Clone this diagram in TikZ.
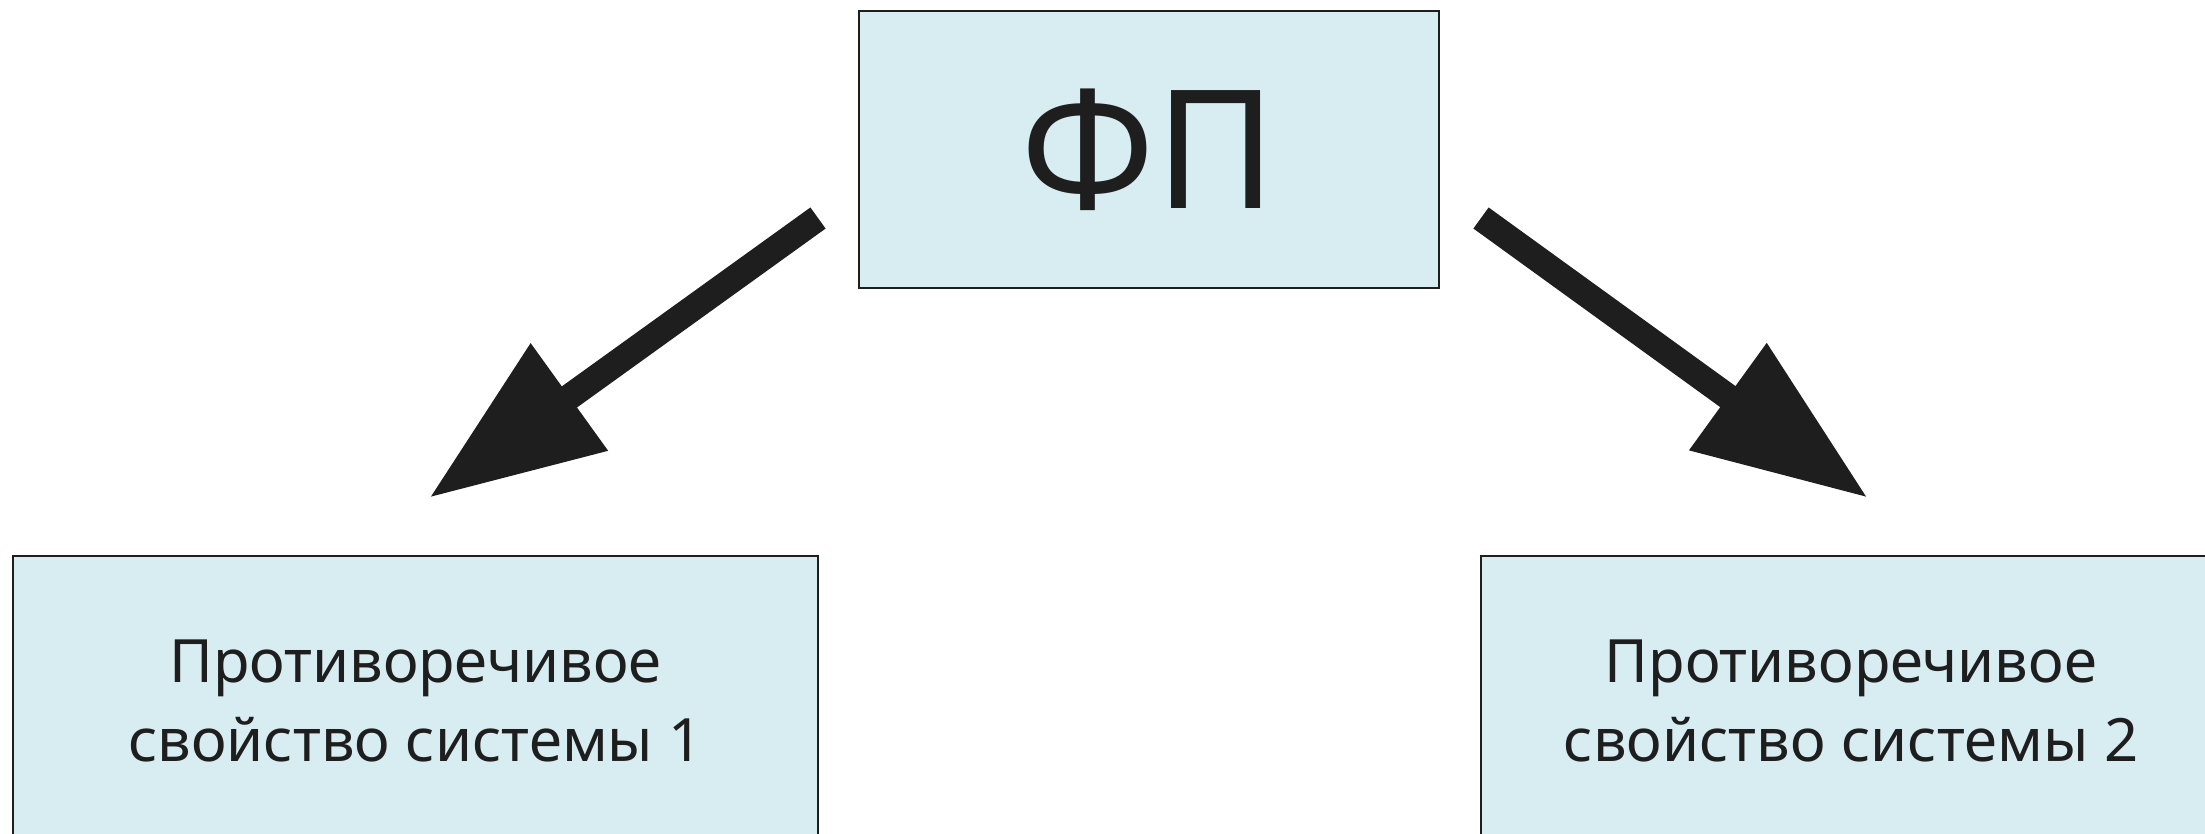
\documentclass[tikz,border=0pt]{standalone}
\usepackage{fontspec}
\setmainfont{Noto Sans}
\usetikzlibrary{arrows.meta}
\definecolor{boxfill}{RGB}{215,237,241}
\definecolor{ink}{RGB}{30,30,30}

\begin{document}
\begin{tikzpicture}[scale=1.0,>={Triangle[length=17.3mm,width=12.5mm]},
    prop/.style={draw=ink,line width=0.7pt,fill=boxfill,text=ink,align=center,inner sep=0pt},
    bigarrow/.style={->,draw=ink,fill=ink,line width=7.4pt}]

    \clip (0,0) rectangle (22.05,8.33);

    \node[prop,minimum width=5.8cm,minimum height=2.77cm,
          font=\fontsize{47}{56}\selectfont] (fp) at (11.49,6.835) {ФП};

    \node[prop,minimum width=8.05cm,minimum height=2.9cm,
          font=\fontsize{17}{22.4}\selectfont] (sys1) at (4.155,1.32)
          {Противоречивое\\свойство системы 1};
    \node[prop,minimum width=7.4cm,minimum height=2.9cm,
          font=\fontsize{17}{22.4}\selectfont] (sys2) at (18.51,1.32)
          {Противоречивое\\свойство системы 2};

    % arrows end short of the boxes
    \coordinate (s1) at (8.18,6.15);
    \coordinate (t1) at (4.29,3.35);
    \coordinate (s2) at (14.81,6.15);
    \coordinate (t2) at (18.68,3.35);

    \draw[bigarrow] (s1) -- (t1);
    \draw[bigarrow] (s2) -- (t2);

\end{tikzpicture}
\end{document}
